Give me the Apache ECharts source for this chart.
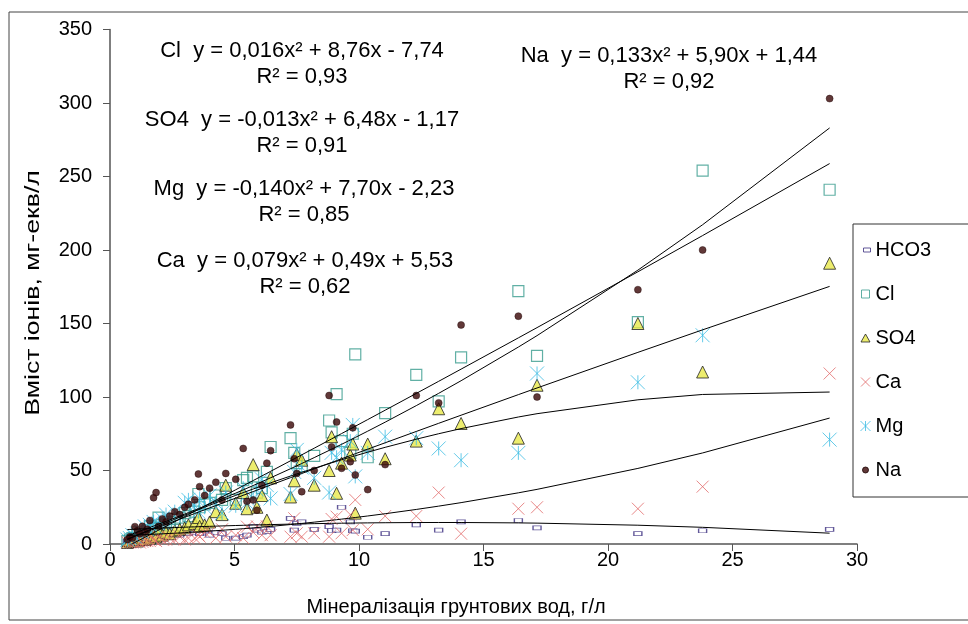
<!DOCTYPE html>
<html>
<head>
<meta charset="utf-8">
<script src="https://cdn.jsdelivr.net/npm/echarts@6/dist/echarts.min.js"></script>
<style>
  html, body { margin: 0; padding: 0; background: #fff; }
  #chart { width: 968px; height: 624px; }
</style>
</head>
<body>
<div id="chart"></div>
<script>
// mineralization of ground water, g/l (one entry per sample)
const mineralization = [0.7, 0.8, 0.9, 1.0, 1.1, 1.2, 1.3, 1.4, 1.5, 1.6, 1.75, 1.85, 1.95, 2.1, 2.25, 2.4, 2.6, 2.8, 3.0, 3.15,
  3.4, 3.55, 3.6, 3.8, 4.0, 4.25, 4.5, 4.65, 5.05, 5.35, 5.5, 5.75, 5.9, 6.1, 6.3, 6.45, 7.25, 7.4, 7.5, 7.7,
  8.2, 8.8, 8.9, 9.1, 9.3, 9.65, 9.75, 9.85, 10.35, 11.05, 12.3, 13.2, 14.1, 16.4, 17.15, 21.2, 23.8, 28.9];

// ion content, mg-eq/l
const hco3 = [2, 2, 3, 2, 3, 3, 4, 3, 4, 5, 4, 5, 6, 5, 7, 6, 8, 6, 9, 7,
  8, 10, 7, 9, 6, 8, 7, 3.9, 4, 5, 6, 12, 9.5, 8, 8.4, 10, 17.5, 9.5, 14, 15,
  10, 11.8, 9, 9.5, 25, 15, 9, 8.8, 4.6, 7, 13, 9.5, 15, 16, 11, 7, 9, 10];
const cl = [2, 3, 4, 4, 8, 5, 6, 7, 9, 12, 10, 11, 18, 13, 14, 15, 17, 18, 21, 19,
  22, 34, 25, 27, 28, 33, 30, 38, 30, 43.5, 45, 46, 35, 38, 49, 66, 72, 62, 55, 53,
  60, 84, 76, 102, 70, 62, 75, 129, 59, 89, 115, 97, 127, 172, 128, 151, 254, 241];
const so4 = [1, 2, 2, 3, 2, 3, 4, 3, 5, 4, 6, 5, 10, 6, 8, 7, 9, 10, 11, 13,
  14, 18, 12, 13, 15, 22, 20, 40, 27.7, 35, 24, 54, 25, 33, 16.3, 45, 32, 43, 61, 57,
  40, 50, 73, 34.5, 55, 60.5, 68, 21, 68, 58, 70, 92, 82, 72, 108, 150, 117, 191];
const ca = [1, 1, 1, 1, 2, 1, 1.5, 2, 2, 2, 3, 2, 5, 3, 3, 4, 3, 5, 3, 4,
  4, 6, 5, 8, 8, 4, 10, 5, 6, 4, 11.8, 8, 12, 6, 12, 6, 5, 17.5, 7.3, 5,
  7.3, 5, 17, 18.6, 7.3, 20, 9.5, 30, 10, 19, 19, 35, 7, 24, 25, 24, 39, 116];
const mg = [3, 4, 6, 5, 7, 9, 8, 12, 10, 13, 15, 11, 14, 17, 20, 16, 22, 19, 28, 30,
  26, 22, 31, 25, 33, 28, 21, 35, 26, 38, 28, 31, 37, 44, 40, 31, 34, 49, 64, 52,
  45, 35, 62, 59, 64, 70, 81, 46, 62, 73, 72, 65, 57, 62, 116, 110, 142, 71];
const na = [3, 5, 4, 11.8, 9, 7, 12, 8, 10, 16, 31.5, 35, 12, 17, 15, 19, 22, 20, 25, 27,
  30, 47.6, 39, 33, 38, 42, 30, 48, 44, 65, 29, 30, 23, 40, 55, 63.5, 81, 58, 48, 35.6,
  50, 101, 66, 83, 51.5, 56, 79, 47, 37, 54, 101, 96, 149, 155, 100, 173, 200, 303];

// quadratic trend coefficients [a, b, c] for y = a*x^2 + b*x + c, as printed on the chart
const hco3Fit = [-0.030, 0.80, 9.3]; // no label in the chart
const clFit = [0.016, 8.76, -7.74];
const so4Fit = [-0.013, 6.48, -1.17];
const caFit = [0.079, 0.49, 5.53];
const mgFit = [-0.140, 7.70, -2.23];
const naFit = [0.133, 5.90, 1.44];

const seriesNames = ['HCO3', 'Cl', 'SO4', 'Ca', 'Mg', 'Na'];
const fitLabels = [
  'Cl  y = 0,016x² + 8,76x - 7,74\nR² = 0,93',
  'SO4  y = -0,013x² + 6,48x - 1,17\nR² = 0,91',
  'Mg  y = -0,140x² + 7,70x - 2,23\nR² = 0,85',
  'Ca  y = 0,079x² + 0,49x + 5,53\nR² = 0,62',
  'Na  y = 0,133x² + 5,90x + 1,44\nR² = 0,92'
];
const xTitle = 'Мінералізація грунтових вод, г/л';
const yTitle = 'Вміст іонів, мг-екв/л';

const font = '"Liberation Sans", Arial, sans-serif';

function pairs(values) {
  return mineralization.map((x, i) => [x, values[i]]);
}
const fitX = mineralization.slice().sort((a, b) => a - b);
function trend(coef) {
  return fitX.map(x => [x, coef[0] * x * x + coef[1] * x + coef[2]]);
}

const crossPath = 'path://M0,0L10,10M10,0L0,10';
const starPath = 'path://M5,0L5,10M0,0L10,10M10,0L0,10';

const chart = echarts.init(document.getElementById('chart'));

const scatterStyles = [
  { symbol: 'rect', symbolSize: [8, 4], itemStyle: { color: '#fff', borderColor: '#3b2e80', borderWidth: 1 } },
  { symbol: 'rect', symbolSize: 11, itemStyle: { color: 'rgba(255,255,255,0)', borderColor: '#3a9c8e', borderWidth: 1.2 } },
  { symbol: 'triangle', symbolSize: 12, itemStyle: { color: '#e8e84a', borderColor: '#222', borderWidth: 1 } },
  { symbol: crossPath, symbolSize: 12, itemStyle: { color: '#e26a6a', borderColor: '#e26a6a', borderWidth: 1 } },
  { symbol: starPath, symbolSize: 14, itemStyle: { color: '#3dbde3', borderColor: '#3dbde3', borderWidth: 1 } },
  { symbol: 'circle', symbolSize: 7, itemStyle: { color: '#3a0606', borderColor: '#1a0000', borderWidth: 0.5 } }
];
// smaller legend glyphs; the leading moves fix the 10x10 box
const legendIcons = [
  'path://M0,0M10,10M3,3H10V7H3Z',
  'path://M0,0M10,10M1,1H9V9H1Z',
  'path://M0,0M10,10M5,1L9.5,9H0.5Z',
  'path://M0,0M10,10M0.5,0.5L9.5,9.5M9.5,0.5L0.5,9.5',
  'path://M5,0L5,10M0,0L10,10M10,0L0,10',
  'path://M0,0M10,10M5,2A3,3,0,1,1,5,8A3,3,0,1,1,5,2Z'
];
const valueSets = [hco3, cl, so4, ca, mg, na];
const fits = [hco3Fit, clFit, so4Fit, caFit, mgFit, naFit];

const series = [];
seriesNames.forEach((name, i) => {
  series.push(Object.assign({
    name: name,
    type: 'scatter',
    data: pairs(valueSets[i]),
    z: 2 + i
  }, scatterStyles[i]));
});
fits.forEach(coef => {
  series.push({
    type: 'line',
    data: trend(coef),
    showSymbol: false,
    silent: true,
    lineStyle: { color: '#000', width: 1 },
    z: 20
  });
});

const labelPos = [[302, 63.5], [302, 133], [304, 202], [305, 274], [669, 68.5]];

chart.setOption({
  backgroundColor: '#fff',
  animation: false,
  grid: { left: 110, right: 111, top: 29.5, bottom: 80 },
  xAxis: {
    type: 'value',
    min: 0, max: 30, interval: 5,
    axisLine: { lineStyle: { color: '#555', width: 1.5 } },
    axisTick: { show: true, length: 7, lineStyle: { color: '#555' } },
    axisLabel: { fontFamily: font, fontSize: 20, color: '#000', margin: 6 },
    splitLine: { show: false }
  },
  yAxis: {
    type: 'value',
    min: 0, max: 350, interval: 50,
    axisLine: { show: true, lineStyle: { color: '#555', width: 1.5 } },
    axisTick: { show: true, length: 7, lineStyle: { color: '#555' } },
    axisLabel: { fontFamily: font, fontSize: 20, color: '#000', margin: 18 },
    splitLine: { show: false }
  },
  legend: {
    orient: 'vertical',
    left: 855,
    top: 235,
    itemWidth: 10,
    itemHeight: 10,
    itemGap: 24,
    z: 50,
    data: seriesNames.map((n, i) => ({ name: n, icon: legendIcons[i] })),
    itemStyle: { borderWidth: 1 },
    textStyle: { fontFamily: font, fontSize: 20, color: '#000' }
  },
  graphic: [
    {
      type: 'polyline',
      shape: { points: [[1000, 12], [9, 12], [9, 620], [1000, 620]] },
      style: { stroke: '#444', fill: null, lineWidth: 1 },
      z: 1
    },
    {
      type: 'rect',
      shape: { x: 853, y: 224, width: 200, height: 273 },
      style: { stroke: '#333', fill: '#fff', lineWidth: 1 },
      z: 10
    },
    {
      type: 'text',
      x: 456,
      y: 607,
      style: { text: xTitle, fill: '#000', font: '20px ' + font, align: 'center', verticalAlign: 'middle' },
      z: 30
    },
    {
      // the title in the picture is drawn tall and narrow, so stretch it along its length
      type: 'text',
      x: 33,
      y: 293,
      rotation: Math.PI / 2,
      scaleX: 1.27,
      style: { text: yTitle, fill: '#000', font: '21px ' + font, align: 'center', verticalAlign: 'middle' },
      z: 30
    }
  ].concat(fitLabels.map((t, i) => ({
    type: 'text',
    x: labelPos[i][0],
    y: labelPos[i][1],
    style: {
      text: t,
      fill: '#000',
      font: '22px ' + font,
      align: 'center',
      verticalAlign: 'middle',
      lineHeight: 26
    },
    z: 30
  }))),
  series: series
});

window.addEventListener('resize', () => chart.resize());
</script>
</body>
</html>
